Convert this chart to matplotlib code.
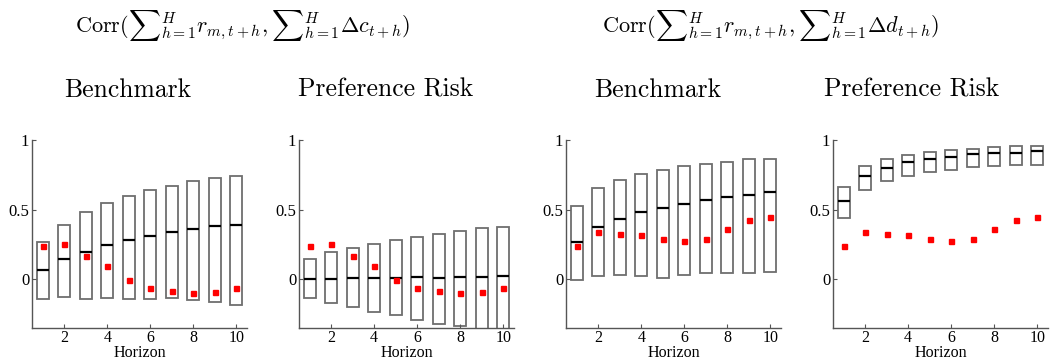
import matplotlib
matplotlib.use("Agg")
import matplotlib.pyplot as plt
import numpy as np

horizon = [1, 2, 3, 4, 5, 6, 7, 8, 9, 10]

# Consumption: Benchmark
c_bench_hi = [0.267, 0.393, 0.481, 0.550, 0.598, 0.643, 0.671, 0.705, 0.729, 0.745]
c_bench_lo = [-0.140, -0.129, -0.143, -0.133, -0.140, -0.143, -0.136, -0.148, -0.162, -0.183]
c_bench_med = [0.069, 0.143, 0.195, 0.243, 0.281, 0.310, 0.338, 0.360, 0.383, 0.393]
# Consumption: Preference risk
c_pref_hi = [0.148, 0.195, 0.226, 0.252, 0.281, 0.307, 0.324, 0.348, 0.367, 0.376]
c_pref_lo = [-0.136, -0.171, -0.200, -0.233, -0.260, -0.293, -0.319, -0.336, -0.370, -0.390]
c_pref_med = [0.000, 0.000, 0.010, 0.010, 0.010, 0.014, 0.012, 0.014, 0.019, 0.021]
# Consumption: data
c_data = [0.240, 0.255, 0.169, 0.098, -0.002, -0.060, -0.081, -0.102, -0.088, -0.060]

# Dividends: Benchmark
d_bench_hi = [0.529, 0.657, 0.714, 0.755, 0.786, 0.814, 0.831, 0.845, 0.864, 0.867]
d_bench_lo = [-0.007, 0.024, 0.031, 0.024, 0.012, 0.029, 0.043, 0.048, 0.043, 0.052]
d_bench_med = [0.269, 0.376, 0.436, 0.481, 0.510, 0.543, 0.567, 0.590, 0.605, 0.629]
# Dividends: Preference risk
d_pref_hi = [0.664, 0.812, 0.867, 0.895, 0.914, 0.929, 0.936, 0.950, 0.955, 0.960]
d_pref_lo = [0.438, 0.638, 0.702, 0.743, 0.771, 0.788, 0.805, 0.814, 0.824, 0.824]
d_pref_med = [0.564, 0.740, 0.802, 0.840, 0.864, 0.881, 0.898, 0.905, 0.910, 0.919]
# Dividends: data
d_data = [0.240, 0.340, 0.326, 0.319, 0.290, 0.276, 0.290, 0.362, 0.426, 0.448]

xticks = [2, 4, 6, 8, 10]
yticks = [0, 0.5, 1]
yticklabels = ["0", "0.5", "1"]

plt.rcParams['mathtext.fontset'] = 'cm'
serif = ['Liberation Serif', 'DejaVu Serif']

fig = plt.figure(figsize=(10.54, 3.62), dpi=100)

panels = [
    (32, c_bench_lo, c_bench_hi, c_bench_med, c_data),
    (299, c_pref_lo, c_pref_hi, c_pref_med, c_data),
    (566, d_bench_lo, d_bench_hi, d_bench_med, d_data),
    (833, d_pref_lo, d_pref_hi, d_pref_med, d_data),
]

W, H = 1054, 362
w = 0.58
bot = 328.0
for left, lo, hi, med, data in panels:
    ax = fig.add_axes([left / W, (H - bot) / H, 215 / W, (bot - 140) / H])
    x = np.array(horizon)
    lo_a = np.array(lo); hi_a = np.array(hi)
    ax.bar(x, hi_a - lo_a, bottom=lo_a, width=w, fill=False,
           edgecolor='#6e6e6e', linewidth=1.3)
    ax.hlines(med, x - w / 2, x + w / 2, colors='black', linewidth=1.6)
    ax.plot(x, data, 's', color='#ff0000', markersize=3.6, linestyle='none')
    ax.set_xlim(0.5, 10.5)
    ax.set_ylim(-0.35, 1.0)
    ax.set_xticks(xticks)
    ax.set_xticklabels([str(t) for t in xticks], fontfamily=serif, fontsize=11.5)
    ax.set_yticks(yticks)
    ax.set_yticklabels(yticklabels, fontfamily=serif, fontsize=12)
    ax.tick_params(direction='in', length=3, width=0.8, color='#555555')
    ax.tick_params(axis='y', pad=2)
    ax.tick_params(axis='x', pad=1.5)
    for s in ['top', 'right']:
        ax.spines[s].set_visible(False)
    for s in ['left', 'bottom']:
        ax.spines[s].set_color('#555555')
        ax.spines[s].set_linewidth(1.0)
    ax.set_xlabel("Horizon", fontfamily=serif, fontsize=11.5, labelpad=-0.5)
    ax.patch.set_visible(False)

# subplot titles
for xc, txt in [(128, "Benchmark"), (386, "Preference Risk"),
                (658, "Benchmark"), (912, "Preference Risk")]:
    fig.text(xc / W, 1 - 90 / H, txt, ha='center', va='center',
             fontfamily='cmr10', fontsize=18.5)

fig.text(243 / W, 1 - 26 / H,
         r'$\mathrm{Corr}({\sum}_{h=1}^{H} r_{m,t+h}, {\sum}_{h=1}^{H} \Delta c_{t+h})$',
         ha='center', va='center', fontsize=16)
fig.text(771 / W, 1 - 26 / H,
         r'$\mathrm{Corr}({\sum}_{h=1}^{H} r_{m,t+h}, {\sum}_{h=1}^{H} \Delta d_{t+h})$',
         ha='center', va='center', fontsize=16)

fig.savefig("out.png", dpi=100)
